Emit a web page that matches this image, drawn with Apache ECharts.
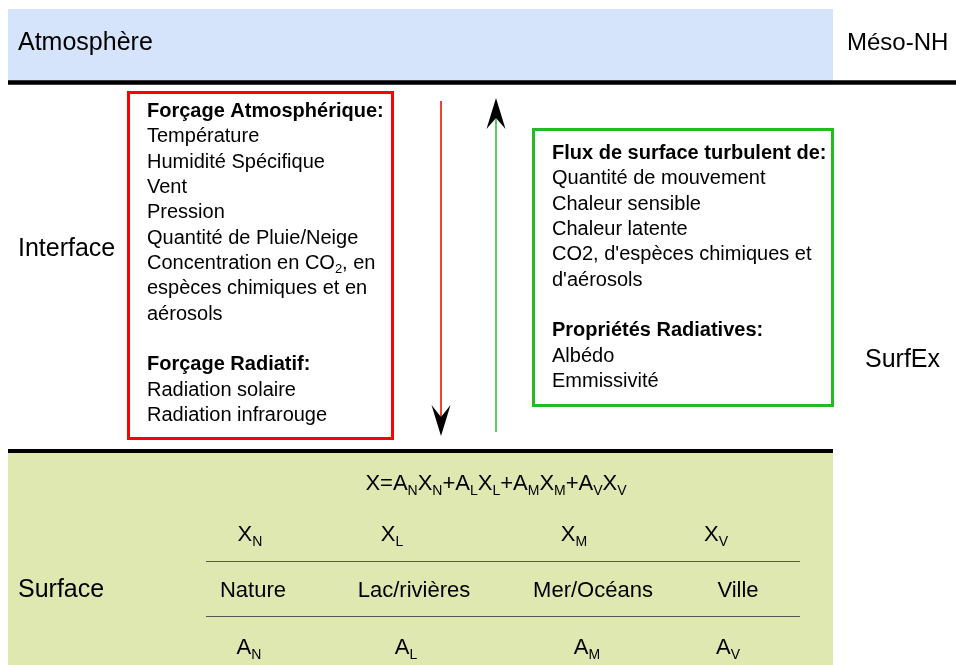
<!DOCTYPE html>
<html>
<head>
<meta charset="utf-8">
<script src="https://cdn.jsdelivr.net/npm/echarts/dist/echarts.min.js"></script>
<style>
html,body{margin:0;padding:0;background:#fff;}
#chart{width:956px;height:665px;}
</style>
</head>
<body>
<div id="chart"></div>
<script>
// ---- content ----
const layerLabels = ['Atmosphère', 'Interface', 'Surface'];
const modelLabels = ['Méso-NH', 'SurfEx'];
const forcingLines = [
  'Forçage Atmosphérique:', 'Température', 'Humidité Spécifique', 'Vent', 'Pression',
  'Quantité de Pluie/Neige', 'Concentration en CO_2, en', 'espèces chimiques et en', 'aérosols',
  '', 'Forçage Radiatif:', 'Radiation solaire', 'Radiation infrarouge'
];
const forcingBold = ['Forçage Atmosphérique:', 'Forçage Radiatif:'];
const fluxLines = [
  'Flux de surface turbulent de:', 'Quantité de mouvement', 'Chaleur sensible', 'Chaleur latente',
  "CO2, d'espèces chimiques et", "d'aérosols", '', 'Propriétés Radiatives:', 'Albédo', 'Emmissivité'
];
const fluxBold = ['Flux de surface turbulent de:', 'Propriétés Radiatives:'];
const formula = 'X=A_NX_N+A_LX_L+A_MX_M+A_VX_V';
const surfaceTypes = ['Nature', 'Lac/rivières', 'Mer/Océans', 'Ville'];
const surfaceCodes = ['N', 'L', 'M', 'V'];

// ---- layout ----
const FONT = "'Liberation Sans', Arial, Helvetica, sans-serif";
const xRowX = [250, 392, 574, 716];
const typeRowX = [253, 414, 593, 738];
const aRowX = [249, 406, 587, 728];

function toRich(s) {
  let out = '', buf = '';
  for (let i = 0; i < s.length; i++) {
    if (s[i] === '_' && i + 1 < s.length) {
      if (buf) { out += '{n|' + buf + '}'; buf = ''; }
      out += '{s|' + s[i + 1] + '}';
      i++;
    } else buf += s[i];
  }
  if (buf) out += '{n|' + buf + '}';
  return out;
}
function richText(str, x, y, size, subSize, lh, subLh, align, bold) {
  return {
    type: 'text', z: 10,
    style: {
      text: toRich(str), x: x, y: y, align: align, verticalAlign: 'middle',
      rich: {
        n: { fontSize: size, lineHeight: lh, fontFamily: FONT, fill: '#000', fontWeight: bold ? 'bold' : 'normal' },
        s: { fontSize: subSize, lineHeight: subLh, fontFamily: FONT, fill: '#000', verticalAlign: 'bottom' }
      }
    }
  };
}
function plainText(str, x, y, size, align, bold) {
  return {
    type: 'text', z: 10,
    style: { text: str, x: x, y: y, align: align || 'left', verticalAlign: 'middle',
      fontSize: size, fontFamily: FONT, fontWeight: bold ? 'bold' : 'normal', fill: '#000' }
  };
}

const g = [];
// background bands
g.push({ type: 'rect', shape: { x: 8, y: 9, width: 825, height: 72 }, style: { fill: '#d5e3fb' } });
g.push({ type: 'rect', shape: { x: 8, y: 452, width: 825, height: 213 }, style: { fill: '#dee8b0' } });
// thick separator lines
g.push({ type: 'line', shape: { x1: 8, y1: 82.5, x2: 956, y2: 82.5 }, style: { stroke: '#000', lineWidth: 4.5 } });
g.push({ type: 'line', shape: { x1: 8, y1: 451, x2: 833, y2: 451 }, style: { stroke: '#000', lineWidth: 4 } });

// side labels
g.push(plainText(layerLabels[0], 18, 43, 25));
g.push(plainText(layerLabels[1], 18, 249, 25));
g.push(plainText(layerLabels[2], 18, 590, 25));
g.push(plainText(modelLabels[0], 847, 43, 24));
g.push(plainText(modelLabels[1], 865, 360, 25));

// red forcing box
g.push({ type: 'rect', shape: { x: 128.5, y: 92.5, width: 264, height: 346 }, style: { fill: 'none', stroke: '#ff0000', lineWidth: 3 } });
forcingLines.forEach(function (t, i) {
  if (!t) return;
  const y = 111.5 + 25.33 * i;
  const bold = forcingBold.indexOf(t) >= 0;
  if (t.indexOf('_') >= 0) g.push(richText(t, 147, y, 20, 13, 24, 10, 'left', bold));
  else g.push(plainText(t, 147, y, 20, 'left', bold));
});

// green flux box
g.push({ type: 'rect', shape: { x: 533.5, y: 129.5, width: 299, height: 276 }, style: { fill: 'none', stroke: '#22bb22', lineWidth: 3 } });
fluxLines.forEach(function (t, i) {
  if (!t) return;
  const y = 153.5 + 25.33 * i;
  g.push(plainText(t, 552, y, 20, 'left', fluxBold.indexOf(t) >= 0));
});

// arrows
g.push({ type: 'line', shape: { x1: 441, y1: 101, x2: 441, y2: 420 }, style: { stroke: '#ee0000', lineWidth: 1.5 } });
g.push({ type: 'polygon', shape: { points: [[441, 436], [431.5, 405], [441, 417], [450.5, 405]] }, style: { fill: '#000' } });
g.push({ type: 'line', shape: { x1: 496, y1: 432, x2: 496, y2: 115 }, style: { stroke: '#22bb22', lineWidth: 1.5 } });
g.push({ type: 'polygon', shape: { points: [[496, 98], [486.5, 129], [496, 118], [505.5, 129]] }, style: { fill: '#000' } });

// surface table
g.push(richText(formula, 496, 484, 22, 14, 28, 12, 'center', false));
surfaceCodes.forEach(function (c, i) {
  g.push(richText('X_' + c, xRowX[i], 535, 22, 14, 28, 12, 'center', false));
  g.push(plainText(surfaceTypes[i], typeRowX[i], 591, 22, 'center', false));
  g.push(richText('A_' + c, aRowX[i], 648, 22, 14, 28, 12, 'center', false));
});
g.push({ type: 'line', shape: { x1: 206, y1: 561.5, x2: 800, y2: 561.5 }, style: { stroke: '#555', lineWidth: 1 } });
g.push({ type: 'line', shape: { x1: 206, y1: 616.5, x2: 800, y2: 616.5 }, style: { stroke: '#555', lineWidth: 1 } });

const chart = echarts.init(document.getElementById('chart'), null, { renderer: 'canvas' });
chart.setOption({ backgroundColor: '#fff', animation: false, graphic: g });
</script>
</body>
</html>
